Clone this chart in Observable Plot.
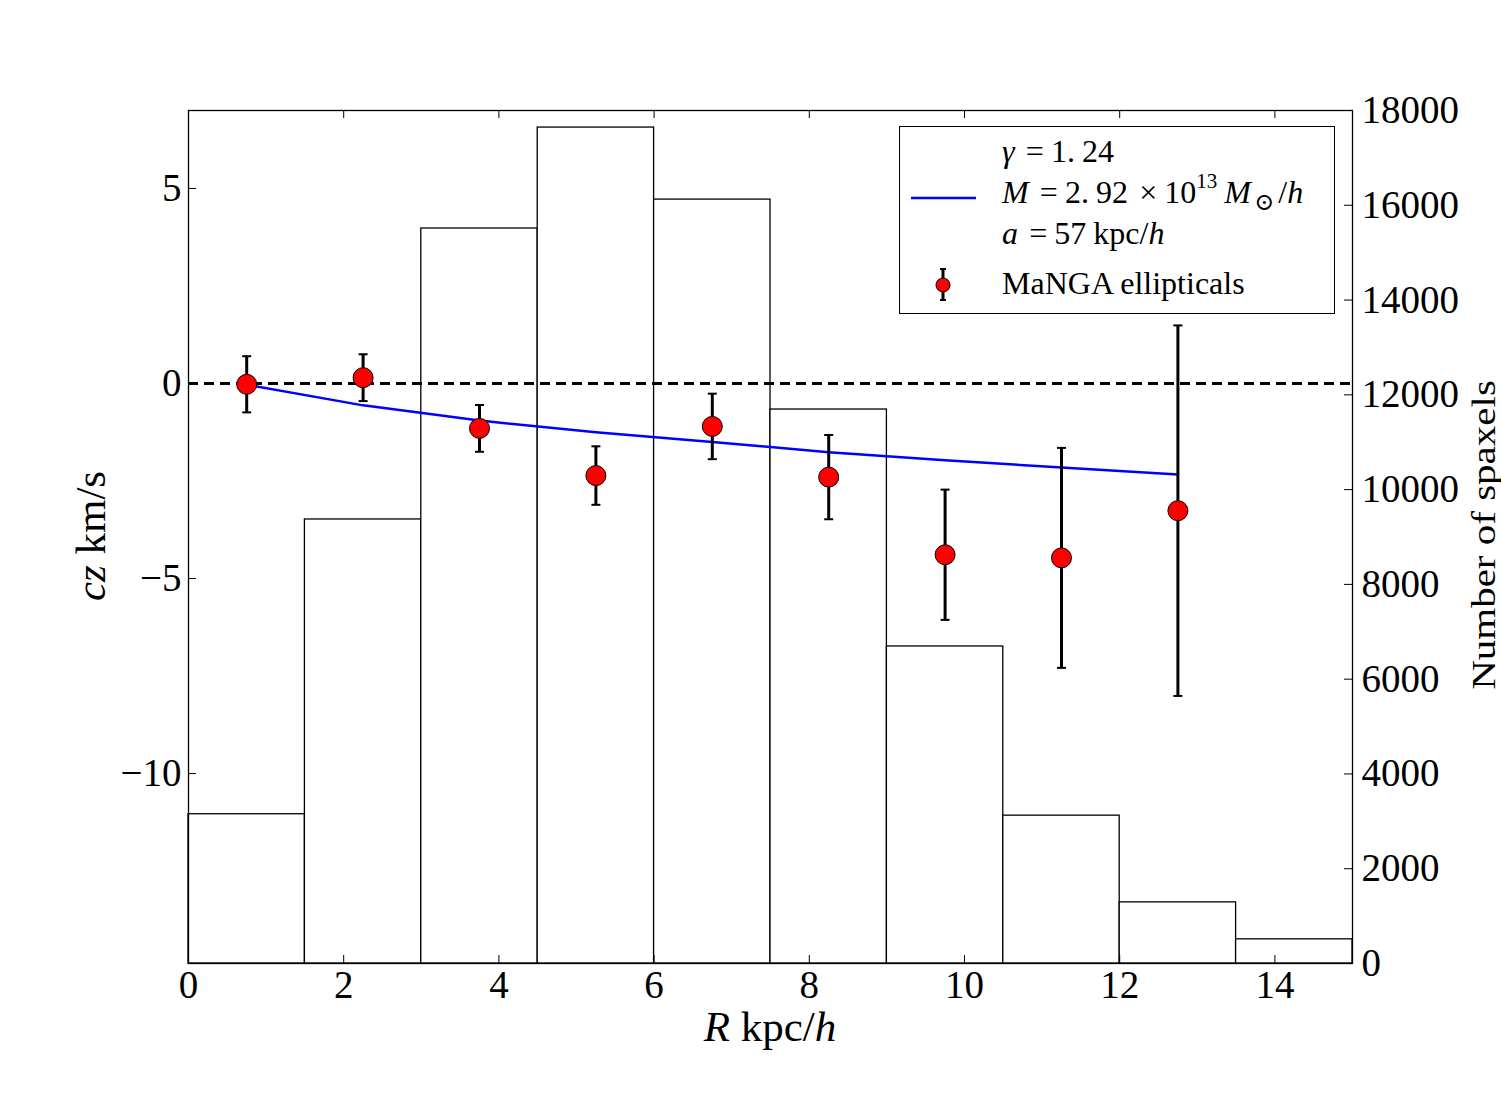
<!DOCTYPE html>
<html>
<head>
<meta charset="utf-8">
<script src="https://cdn.jsdelivr.net/npm/d3@7"></script>
<script src="https://cdn.jsdelivr.net/npm/@observablehq/plot@0.6"></script>
<style>
  body { margin: 0; background: #fff; }
  #chart { position: relative; width: 1501px; height: 1100px; font-family: "Liberation Serif", "DejaVu Serif", serif; color: #000; }
  #chart svg.layer { position: absolute; left: 0; top: 0; }
  .lbl { position: absolute; white-space: nowrap; line-height: 1; }
  .legend { position: absolute; left: 899px; top: 126px; width: 434px; height: 186px; border: 1.3px solid #000; background: #fff; }
  .legend .row { position: absolute; left: 102px; font-size: 32px; white-space: nowrap; line-height: 1; }
  .legend svg { position: absolute; left: 0; top: 0; }
  .op { margin: 0 0.22em 0 0.1em; }
  .gap { margin-left: 0.22em; }
  sup { font-size: 0.66em; vertical-align: 0.72em; line-height: 0; }
  sub { font-size: 0.75em; vertical-align: -0.28em; line-height: 0; margin: 0 0.15em; }
</style>
</head>
<body>
<div id="chart"></div>
<script>
// Histogram of spaxels per radial bin (right axis)
const binEdges = [0, 1.5, 3, 4.5, 6, 7.5, 9, 10.5, 12, 13.5, 15];
const spaxelCounts = [3150, 9370, 15510, 17640, 16120, 11690, 6690, 3120, 1290, 510];

// Stacked velocity offset of MaNGA ellipticals per radial bin (left axis)
const radius = [0.75, 2.25, 3.75, 5.25, 6.75, 8.25, 9.75, 11.25, 12.75];
const czMean = [-0.02, 0.15, -1.15, -2.36, -1.10, -2.40, -4.39, -4.47, -3.26];
const czError = [0.72, 0.60, 0.60, 0.75, 0.84, 1.08, 1.67, 2.82, 4.75];

// Model prediction (gamma = 1.24, M = 2.92e13 Msun/h, a = 57 kpc/h)
const modelCz = [-0.03, -0.56, -0.95, -1.25, -1.50, -1.76, -1.97, -2.15, -2.33];

// Tick values
const xTicks = [0, 2, 4, 6, 8, 10, 12, 14];
const czTicks = [-10, -5, 0, 5];
const countTicks = [0, 2000, 4000, 6000, 8000, 10000, 12000, 14000, 16000, 18000];

const W = 1501, H = 1100;
const M = { marginLeft: 188, marginRight: 149, marginTop: 110, marginBottom: 137 };
const innerW = W - M.marginLeft - M.marginRight;
const innerH = H - M.marginTop - M.marginBottom;
const FONT = '"Liberation Serif", "DejaVu Serif", serif';
const TICK = 8;

const bins = spaxelCounts.map((c, i) => ({ x1: binEdges[i], x2: binEdges[i + 1], count: c }));
const points = radius.map((r, i) => ({ r, cz: czMean[i], err: czError[i], model: modelCz[i] }));
const minus = d => (d < 0 ? "\u2212" + (-d) : String(d));

// horizontal error-bar cap
const cap = {
  draw(context, size) {
    const w = Math.sqrt(size / Math.PI);
    context.moveTo(-w, 0);
    context.lineTo(w, 0);
  }
};

const baseStyle = { fontFamily: FONT, fontSize: "39px", background: "transparent", overflow: "visible", color: "black" };

const histPlot = Plot.plot({
  width: W, height: H, ...M,
  style: baseStyle,
  x: { domain: [0, 15], axis: null },
  y: { domain: [0, 18000], label: null },
  marks: [
    Plot.rectY(bins, { x1: "x1", x2: "x2", y1: 0, y2: "count", fill: "white", stroke: "black", strokeWidth: 1.3 }),
    Plot.tickY(countTicks, { y: d => d, insetLeft: innerW - TICK, stroke: "black", strokeWidth: 1 }),
    Plot.axisY(countTicks, { anchor: "right", tickSize: 0, tickPadding: 9, tickFormat: d => String(d), label: null, fontSize: 39, fill: "black" })
  ]
});
histPlot.classList.add("layer");

const mainPlot = Plot.plot({
  width: W, height: H, ...M,
  style: baseStyle,
  x: { domain: [0, 15], label: null },
  y: { domain: [-14.87, 7], label: null },
  marks: [
    Plot.ruleY([0], { stroke: "black", strokeWidth: 3, strokeDasharray: "10,6" }),
    Plot.line(points, { x: "r", y: "model", stroke: "#0000ff", strokeWidth: 2.5 }),
    Plot.ruleX(points, { x: "r", y1: d => d.cz - d.err, y2: d => d.cz + d.err, stroke: "black", strokeWidth: 3 }),
    Plot.dot(points, { x: "r", y: d => d.cz - d.err, symbol: cap, r: 4.5, stroke: "black", strokeWidth: 2, fill: "none" }),
    Plot.dot(points, { x: "r", y: d => d.cz + d.err, symbol: cap, r: 4.5, stroke: "black", strokeWidth: 2, fill: "none" }),
    Plot.dot(points, { x: "r", y: "cz", r: 10, fill: "#ff0000", stroke: "black", strokeWidth: 1 }),
    Plot.frame({ stroke: "black", strokeWidth: 1.3 }),
    Plot.tickX(xTicks, { x: d => d, insetTop: innerH - TICK, stroke: "black", strokeWidth: 1 }),
    Plot.tickX(xTicks, { x: d => d, insetBottom: innerH - TICK, stroke: "black", strokeWidth: 1 }),
    Plot.tickY(czTicks, { y: d => d, insetRight: innerW - TICK, stroke: "black", strokeWidth: 1 }),
    Plot.axisX(xTicks, { anchor: "bottom", tickSize: 0, tickPadding: 7, tickFormat: d => String(d), label: null, fontSize: 39, fill: "black" }),
    Plot.axisY(czTicks, { anchor: "left", tickSize: 0, tickPadding: 7, tickFormat: minus, label: null, fontSize: 39, fill: "black" })
  ]
});
mainPlot.classList.add("layer");

const chart = document.getElementById("chart");
chart.appendChild(histPlot);
chart.appendChild(mainPlot);

// Axis titles
function addLabel(html, style) {
  const d = document.createElement("div");
  d.className = "lbl";
  d.innerHTML = html;
  Object.assign(d.style, style);
  chart.appendChild(d);
  return d;
}
addLabel("<i>cz</i> km/s", { left: "90px", top: "536px", fontSize: "43px", transform: "translate(-50%,-50%) rotate(-90deg)" });
addLabel("Number of spaxels", { left: "1484px", top: "535px", fontSize: "41px", transform: "translate(-50%,-50%) rotate(-90deg) scaleY(0.8)" });
addLabel("<i>R</i> kpc/<i>h</i>", { left: "770px", top: "1005px", fontSize: "43px", transform: "translateX(-50%)" });

// Legend
const legend = document.createElement("div");
legend.className = "legend";
legend.innerHTML = `
  <svg width="434" height="186">
    <line x1="11" x2="76" y1="71" y2="71" stroke="#0000ff" stroke-width="2.5"/>
    <line x1="43" x2="43" y1="142" y2="173" stroke="black" stroke-width="3"/>
    <line x1="40" x2="46" y1="142" y2="142" stroke="black" stroke-width="2"/>
    <line x1="40" x2="46" y1="173" y2="173" stroke="black" stroke-width="2"/>
    <circle cx="43" cy="158" r="7" fill="#ff0000" stroke="black" stroke-width="1"/>
  </svg>
  <div class="row" style="top:8px"><i>γ</i><span class="op"> =</span>1.<span class="gap"></span>24</div>
  <div class="row" style="top:49px"><i>M</i><span class="op"> =</span>2.<span class="gap"></span>92<span class="op"> ×</span>10<sup>13</sup><span class="gap"></span><i>M</i><sub>⊙</sub>/<i>h</i></div>
  <div class="row" style="top:90px"><i>a</i><span class="op"> =</span>57<span class="gap"></span>kpc/<i>h</i></div>
  <div class="row" style="top:140px">MaNGA ellipticals</div>
`;
chart.appendChild(legend);
</script>
</body>
</html>
